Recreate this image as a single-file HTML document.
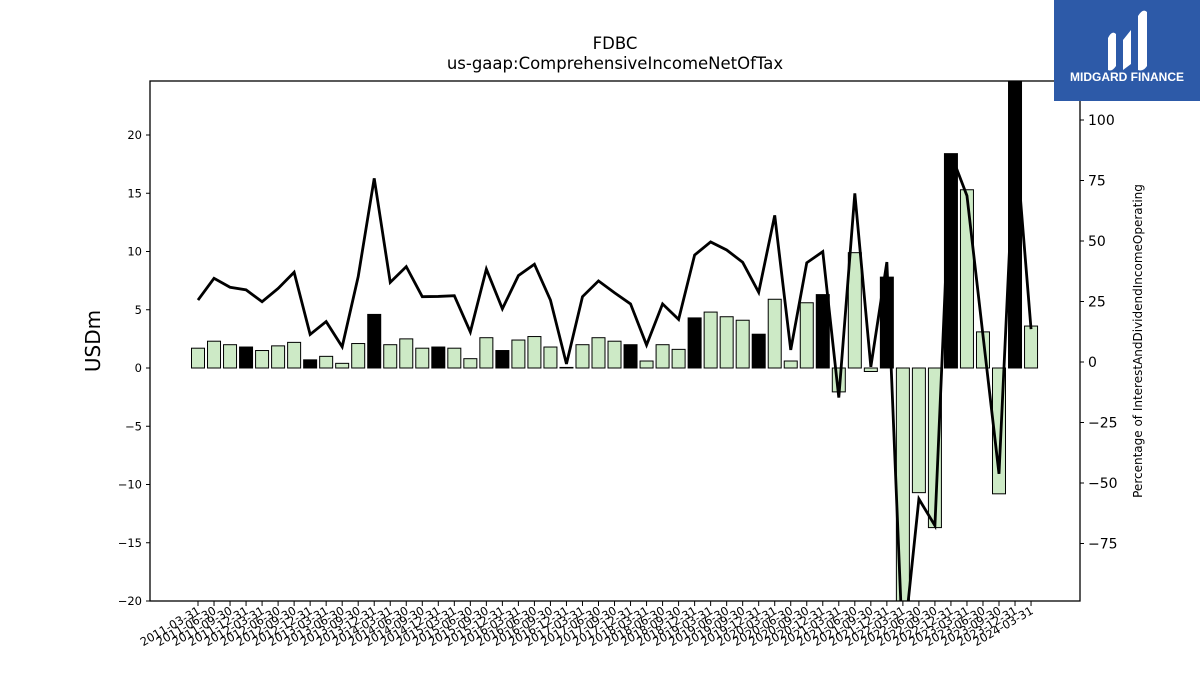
<!DOCTYPE html>
<html><head><meta charset="utf-8"><style>
body{margin:0;background:#fff;width:1200px;height:675px;overflow:hidden;font-family:"Liberation Sans","DejaVu Sans",sans-serif}
</style></head><body>
<svg id="chart" width="1200" height="675" xmlns="http://www.w3.org/2000/svg" style="font-family:'DejaVu Sans','Liberation Sans',sans-serif">
<defs><clipPath id="plotclip"><rect x="150" y="81" width="930" height="520"/></clipPath></defs>
<text x="615" y="49" font-size="16.5" text-anchor="middle">FDBC</text>
<text x="615" y="69" font-size="16.5" text-anchor="middle">us-gaap:ComprehensiveIncomeNetOfTax</text>
<g id="plot"></g>
<text transform="translate(100,341) rotate(-90)" font-size="20" text-anchor="middle">USDm</text>
<text transform="translate(1142,341) rotate(-90)" font-size="12" text-anchor="middle">Percentage of InterestAndDividendIncomeOperating</text>
<g>
<rect x="1054" y="0" width="146" height="101" fill="#2d5aa8"/>
<path d="M1108 70 L1108 38 Q1112 30 1116 34 L1116 66 Q1112 72 1108 70Z M1123 70 L1123 40 L1131 30 L1131 64Z M1138 70 L1138 16 Q1143 8 1147 12 L1147 66 Q1143 72 1138 70Z" fill="#fff"/>
<text x="1127" y="81" font-size="12" font-weight="bold" fill="#fff" text-anchor="middle" font-family="Liberation Sans, sans-serif">MIDGARD FINANCE</text>
</g>
</svg>
<script>
const labels=[];
for(let y=2011;y<=2024;y++){for(const q of ["03-31","06-30","09-30","12-31"]){if(y===2024&&q!=="03-31")continue;labels.push(y+"-"+q);}}
const barValues=[1.7,2.3,2.0,1.8,1.5,1.9,2.2,0.7,1.0,0.4,2.1,4.6,2.0,2.5,1.7,1.8,1.7,0.8,2.6,1.5,2.4,2.7,1.8,0.05,2.0,2.6,2.3,2.0,0.6,2.0,1.6,4.3,4.8,4.4,4.1,2.9,5.9,0.6,5.6,6.3,-2.05,9.9,-0.3,7.8,-25,-10.7,-13.7,18.4,15.3,3.1,-10.8,30,3.6];
const barDark=[0,0,0,1,0,0,0,1,0,0,0,1,0,0,0,1,0,0,0,1,0,0,0,0,0,0,0,1,0,0,0,1,0,0,0,1,0,0,0,1,0,0,0,1,0,0,0,1,0,0,0,1,0];
const lineValues=[25.6,34.6,30.9,29.8,24.9,30.4,37.1,11.4,16.7,6.3,35.3,75.9,32.9,39.4,27.0,27.1,27.4,12.4,38.4,22.0,35.7,40.4,25.6,-0.8,27.0,33.5,28.6,24.0,7.0,24.0,17.6,44.2,49.6,46.3,41.2,28.8,60.6,5.0,41.0,45.6,-14.7,69.7,-2.0,41.3,-120,-56.6,-67.6,86,68.7,11,-46.2,95,13.6];
const leftTicks=[-20,-15,-10,-5,0,5,10,15,20];
const rightTicks=[-75,-50,-25,0,25,50,75,100];
const NS="http://www.w3.org/2000/svg";
const L=150,R=1080,T=81,B=601;
const yL=v=>368-v*11.65;
const yR=v=>362-v*2.42;
const xB=i=>198+i*16.02;
const g=document.getElementById('plot');
function mk(t,a,p){const e=document.createElementNS(NS,t);for(const k in a)e.setAttribute(k,a[k]);(p||g).appendChild(e);return e;}
const clip=mk('g',{'clip-path':'url(#plotclip)'});


barValues.forEach((v,i)=>{const y0=yL(0),y1=yL(v);
const r=mk('rect',{x:xB(i)-6.5,y:Math.min(y0,y1),width:13,height:Math.abs(y1-y0),fill:barDark[i]?'#000':'#cdeac6',stroke:'#000','stroke-width':1},clip);

});
const pl=mk('polyline',{points:lineValues.map((v,i)=>xB(i)+','+yR(v)).join(' '),fill:'none',stroke:'#000','stroke-width':2.8,'stroke-linejoin':'miter'},clip);


const fr=mk('rect',{x:L,y:T,width:R-L,height:B-T,fill:'none',stroke:'#000','stroke-width':1.3});


leftTicks.forEach(v=>{const y=yL(v);mk('line',{x1:L-4,x2:L,y1:y,y2:y,stroke:'#000'});
const t=mk('text',{x:L-8,y:y+4,'font-size':11.5,'text-anchor':'end'});t.textContent=v<0?'\u2212'+(-v):v;

});
rightTicks.forEach(v=>{const y=yR(v);mk('line',{x1:R,x2:R+4,y1:y,y2:y,stroke:'#000'});
const t=mk('text',{x:R+8,y:y+5,'font-size':14});t.textContent=v<0?'\u2212'+(-v):v;

});
labels.forEach((s,i)=>{const x=xB(i);mk('line',{x1:x,x2:x,y1:B,y2:B+5,stroke:'#000'});
const t=mk('text',{transform:`translate(${x+3},${B+12}) rotate(-30)`,'font-size':11.5,'text-anchor':'end'});t.textContent=s;

});
</script>
</body></html>
